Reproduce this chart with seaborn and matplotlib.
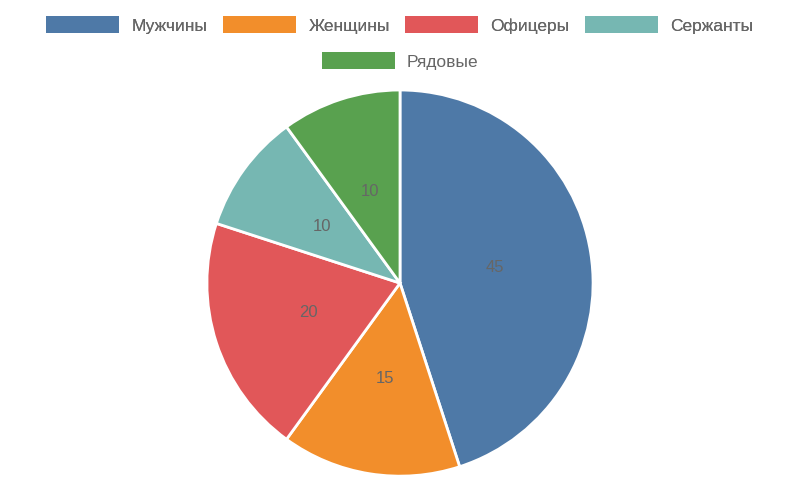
import matplotlib
matplotlib.use('Agg')
import matplotlib.pyplot as plt
from matplotlib.patches import Patch
import seaborn as sns

labels = ['Мужчины', 'Женщины', 'Офицеры', 'Сержанты', 'Рядовые']
values = [45, 15, 20, 10, 10]
colors = ['#4e79a7', '#f28e2b', '#e15759', '#76b7b2', '#59a14f']

sns.set_theme(style='white')
plt.rcParams['font.family'] = ['Liberation Sans', 'DejaVu Sans']

fig = plt.figure(figsize=(8, 4.8), dpi=100)
ax = fig.add_axes([0.25625, 0.004, 0.4875, 0.8125])
ax.pie(values, colors=colors, startangle=90, counterclock=False,
       autopct=lambda p: '%d' % round(p * sum(values) / 100), pctdistance=0.5,
       textprops={'color': '#666666', 'fontsize': 12},
       wedgeprops={'edgecolor': 'white', 'linewidth': 2})
ax.set_xlim(-1.01, 1.01)
ax.set_ylim(-1.01, 1.01)
ax.set_aspect('equal')

handles = [Patch(facecolor=c, edgecolor='none') for c in colors]
leg1 = fig.legend(handles[:4], labels[:4], loc='center', bbox_to_anchor=(0.5, 0.948),
                  ncol=4, frameon=False, fontsize=12.5, handlelength=4.2,
                  handleheight=1.1, handletextpad=0.7, columnspacing=0.9,
                  labelcolor='#666666')
fig.add_artist(leg1)
fig.legend(handles[4:], labels[4:], loc='center', bbox_to_anchor=(0.5, 0.873),
           ncol=1, frameon=False, fontsize=12.5, handlelength=4.2,
           handleheight=1.1, handletextpad=0.7, labelcolor='#666666')

fig.savefig('out.png', dpi=100)
